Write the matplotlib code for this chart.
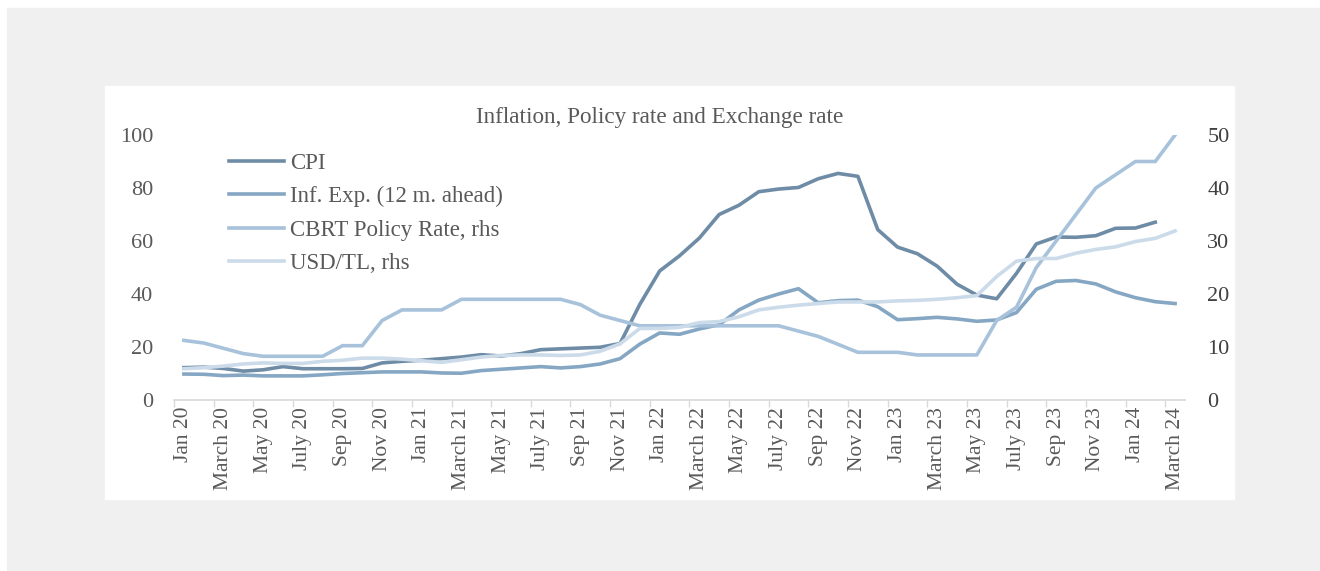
import numpy as np
import matplotlib
matplotlib.use("Agg")
import matplotlib.pyplot as plt
from matplotlib.patches import Rectangle

plt.rcParams["font.family"] = ["Liberation Serif", "DejaVu Serif"]

# Monthly data, Jan 2020 - March 2024
months = [
    "Jan 20", "Feb 20", "March 20", "Apr 20", "May 20", "June 20", "July 20", "Aug 20", "Sep 20", "Oct 20", "Nov 20", "Dec 20",
    "Jan 21", "Feb 21", "March 21", "Apr 21", "May 21", "June 21", "July 21", "Aug 21", "Sep 21", "Oct 21", "Nov 21", "Dec 21",
    "Jan 22", "Feb 22", "March 22", "Apr 22", "May 22", "June 22", "July 22", "Aug 22", "Sep 22", "Oct 22", "Nov 22", "Dec 22",
    "Jan 23", "Feb 23", "March 23", "Apr 23", "May 23", "June 23", "July 23", "Aug 23", "Sep 23", "Oct 23", "Nov 23", "Dec 23",
    "Jan 24", "Feb 24", "March 24",
]

cpi = [12.2, 12.4, 11.9, 10.9, 11.4, 12.6, 11.8, 11.8, 11.8, 11.9, 14.0, 14.6,
       15.0, 15.6, 16.2, 17.1, 16.6, 17.5, 19.0, 19.3, 19.6, 19.9, 21.3, 36.1,
       48.7, 54.4, 61.1, 70.0, 73.5, 78.6, 79.6, 80.2, 83.5, 85.5, 84.4, 64.3,
       57.7, 55.2, 50.5, 43.7, 39.6, 38.2, 47.8, 58.9, 61.5, 61.4, 62.0, 64.8,
       64.9, 67.1, np.nan]

inf_exp = [9.8, 9.7, 9.2, 9.4, 9.1, 9.1, 9.1, 9.5, 10.0, 10.3, 10.6, 10.6,
           10.6, 10.2, 10.1, 11.1, 11.6, 12.1, 12.6, 12.1, 12.6, 13.6, 15.6, 21.1,
           25.3, 24.8, 26.8, 28.4, 34.0, 37.7, 40.0, 42.0, 36.7, 37.5, 37.7, 35.2,
           30.3, 30.7, 31.2, 30.6, 29.7, 30.2, 33.0, 41.8, 44.8, 45.1, 43.8, 40.8,
           38.6, 37.1, 36.4]

policy_rate = [11.25, 10.75, 9.75, 8.75, 8.25, 8.25, 8.25, 8.25, 10.25, 10.25, 15.0, 17.0,
               17.0, 17.0, 19.0, 19.0, 19.0, 19.0, 19.0, 19.0, 18.0, 16.0, 15.0, 14.0,
               14.0, 14.0, 14.0, 14.0, 14.0, 14.0, 14.0, 13.0, 12.0, 10.5, 9.0, 9.0,
               9.0, 8.5, 8.5, 8.5, 8.5, 15.0, 17.5, 25.0, 30.0, 35.0, 40.0, 42.5,
               45.0, 45.0, 50.0]

usd_tl = [5.9, 6.1, 6.4, 6.8, 7.0, 6.9, 6.9, 7.3, 7.5, 7.9, 7.9, 7.7,
          7.4, 7.1, 7.6, 8.1, 8.4, 8.5, 8.5, 8.4, 8.5, 9.2, 10.6, 13.5,
          13.5, 13.7, 14.6, 14.8, 15.7, 17.0, 17.5, 17.9, 18.2, 18.5, 18.5, 18.5,
          18.7, 18.8, 19.0, 19.3, 19.7, 23.3, 26.2, 26.7, 26.7, 27.7, 28.4, 28.9,
          29.9, 30.5, 31.9]

c_cpi = "#6f8ca6"
c_exp = "#86a7c3"
c_pol = "#a7c2da"
c_usd = "#cbdbe9"
txt = "#595959"

x = np.arange(len(months))

fig = plt.figure(figsize=(13.2, 5.71), dpi=100)
fig.patches.append(Rectangle((7 / 1320, 0), 1 - 7 / 1320, 1 - 8 / 571,
                             transform=fig.transFigure, color="#f0f0f0", zorder=-2))
fig.patches.append(Rectangle((105 / 1320, 1 - 499 / 571), (1234 - 105) / 1320, (499 - 86) / 571,
                             transform=fig.transFigure, color="white", zorder=-1))

ax = fig.add_axes([174 / 1320, 1 - 400 / 571, (1185 - 174) / 1320, (400 - 135) / 571])
ax.set_facecolor("none")
ax2 = ax.twinx()

l1, = ax.plot(x, cpi, color=c_cpi, lw=2.6, label="CPI")
l2, = ax.plot(x, inf_exp, color=c_exp, lw=2.6, label="Inf. Exp. (12 m. ahead)")
l3, = ax2.plot(x, policy_rate, color=c_pol, lw=2.6, label="CBRT Policy Rate, rhs")
l4, = ax2.plot(x, usd_tl, color=c_usd, lw=2.6, label="USD/TL, rhs")

ax.set_xlim(-0.5, len(months) - 0.5)
ax.set_ylim(0, 100)
ax2.set_ylim(0, 50)
ax.set_yticks(range(0, 101, 20))
ax2.set_yticks(range(0, 51, 10))

ax.set_xticks(x[::2], months[::2], rotation=90)
ax.set_xticks(np.arange(-0.5, len(months) - 1, 2), minor=True)
ax.tick_params(axis="x", which="major", length=0, pad=5, labelsize=15.5, colors=txt)
ax.tick_params(axis="x", which="minor", length=5, color="#d9d9d9", width=1)
ax.tick_params(axis="y", length=0, pad=15, labelsize=16, colors=txt)
ax2.tick_params(axis="y", length=0, pad=16, labelsize=16, colors="#404040")

for a in (ax, ax2):
    for s in ("top", "left", "right"):
        a.spines[s].set_visible(False)
ax2.spines["bottom"].set_visible(False)
ax.spines["bottom"].set_color("#d9d9d9")
ax.spines["bottom"].set_linewidth(1.2)

fig.text(0.5, 1 - 118 / 571, "Inflation, Policy rate and Exchange rate",
         ha="center", va="center", fontsize=16.7, color=txt)

leg = ax2.legend(handles=[l1, l2, l3, l4], loc="upper left",
                 bbox_to_anchor=(229 / 1320, 1 - 153 / 571), bbox_transform=fig.transFigure,
                 frameon=False, fontsize=16.5, handlelength=2.4, handletextpad=0.25,
                 labelspacing=0.53, borderpad=0, borderaxespad=0)
for t in leg.get_texts():
    t.set_color(txt)

fig.savefig("out.png", dpi=100)
